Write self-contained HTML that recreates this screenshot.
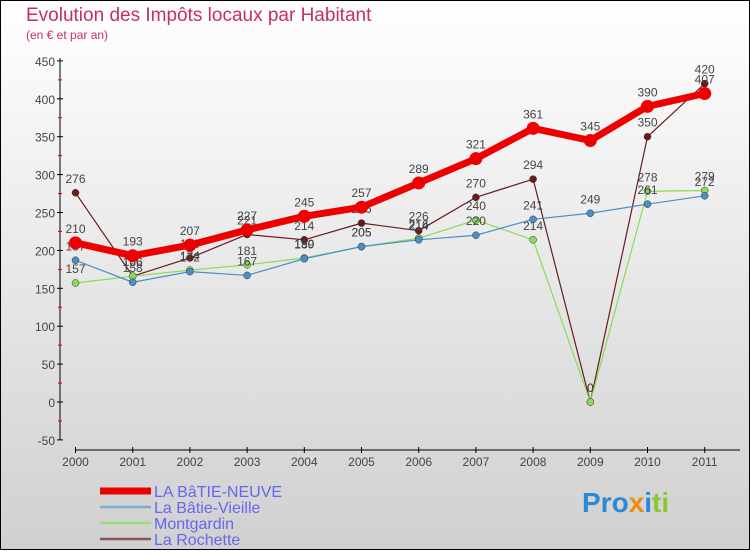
<!DOCTYPE html>
<html><head><meta charset="utf-8"><style>
body{margin:0;width:750px;height:550px;overflow:hidden;font-family:"Liberation Sans",sans-serif}
</style></head><body>
<svg width="750" height="550" xmlns="http://www.w3.org/2000/svg">
<defs><linearGradient id="bg" x1="0" y1="0" x2="0" y2="1"><stop offset="0" stop-color="#ffffff"/><stop offset="1" stop-color="#d0d0d0"/></linearGradient></defs>
<rect x="0.5" y="0.5" width="749" height="549" fill="url(#bg)" stroke="#000"/>
<text x="26" y="21" font-size="19" fill="#c8305a">Evolution des Impôts locaux par Habitant</text>
<text x="26" y="39" font-size="12" fill="#c8305a">(en € et par an)</text>
<g id="axes"></g><g id="series"></g><g id="legend"></g>
</svg>
<script>
const years=["2000","2001","2002","2003","2004","2005","2006","2007","2008","2009","2010","2011"];
const yTicks=[-50,0,50,100,150,200,250,300,350,400,450];
const neuve=[210,193,207,227,245,257,289,321,361,345,390,407];
const vieille=[187,158,172,167,189,205,214,220,241,249,261,272];
const montgardin=[157,166,174,181,190,205,216,240,214,0,278,279];
const rochette=[276,166,190,221,214,236,226,270,294,0,350,420];
const NS="http://www.w3.org/2000/svg";
const xs=i=>75.5+i*57.2;
const ys=v=>402-v*0.758;
function mk(p,t,a){const e=document.createElementNS(NS,t);for(const k in a)e.setAttribute(k,a[k]);p.appendChild(e);return e;}
const ax=document.getElementById('axes');
const ya=mk(ax,'line',{x1:60,y1:58,x2:60,y2:440,stroke:'#000'});


const xa=mk(ax,'line',{x1:75,y1:450,x2:740,y2:450,stroke:'#000'});


yTicks.forEach((v,i)=>{
  mk(ax,'line',{x1:57,x2:63,y1:ys(v),y2:ys(v),stroke:'#000'});
  if(i<yTicks.length-1) mk(ax,'line',{x1:58,x2:62,y1:ys(v+25),y2:ys(v+25),stroke:'#d00'});
  const t=mk(ax,'text',{x:55,y:ys(v)+5,'font-size':12,'text-anchor':'end',fill:'#444'});
  t.textContent=v;
  
  
});
years.forEach((y,i)=>{
  mk(ax,'line',{x1:xs(i),x2:xs(i),y1:447,y2:453,stroke:'#000'});
  const t=mk(ax,'text',{x:xs(i),y:466,'font-size':12,'text-anchor':'middle',fill:'#444'});
  t.textContent=y;
  
  
});
const sg=document.getElementById('series');
const defs=[
 {d:rochette,c:'#6b1a1a',w:1.2,r:3.5,n:'la-rochette'},
 {d:montgardin,c:'#88dd55',w:1.2,r:3.5,n:'montgardin'},
 {d:vieille,c:'#4a90c8',w:1.2,r:3.5,n:'la-batie-vieille'},
 {d:neuve,c:'#ee0000',w:7,r:6.5,n:'la-batie-neuve'}
];
defs.forEach(s=>{
  const g=mk(sg,'g',{});
  
  
  const pl=mk(g,'polyline',{points:s.d.map((v,i)=>xs(i)+','+ys(v)).join(' '),fill:'none',stroke:s.c,'stroke-width':s.w,'stroke-linejoin':'round'});
  
  
  s.d.forEach((v,i)=>{
    const c=mk(g,'circle',{cx:xs(i),cy:ys(v),r:s.r,fill:s.c,stroke:s.w>2?'none':'#333','stroke-width':0.5});
    
    
    const t=mk(g,'text',{x:xs(i),y:ys(v)-10,'font-size':12,'text-anchor':'middle',fill:'#444'});
    t.textContent=v;
    
    
  });
});
const lg=document.getElementById('legend');
const leg=[['LA BâTIE-NEUVE','#ee0000',7],['La Bâtie-Vieille','#7aaed0',2.5],['Montgardin','#99dd77',2.5],['La Rochette','#8a5555',2.5]];
leg.forEach((l,i)=>{
  const y=491+i*16;
  const g=mk(lg,'g',{});
  
  
  mk(g,'line',{x1:100,x2:151,y1:y,y2:y,stroke:l[1],'stroke-width':l[2]});
  const t=mk(g,'text',{x:154,y:y+6,'font-size':16,fill:'#6666ee'});
  t.textContent=l[0];
});
</script>
<div style="position:absolute;left:582px;top:487px;font-size:28px;font-weight:bold;font-family:'Liberation Sans',sans-serif"><span style="color:#2a8ad8">Pro</span><span style="color:#f08a10">x</span><span style="color:#2a8ad8">i</span><span style="color:#8ac830">ti</span></div>
</body></html>
